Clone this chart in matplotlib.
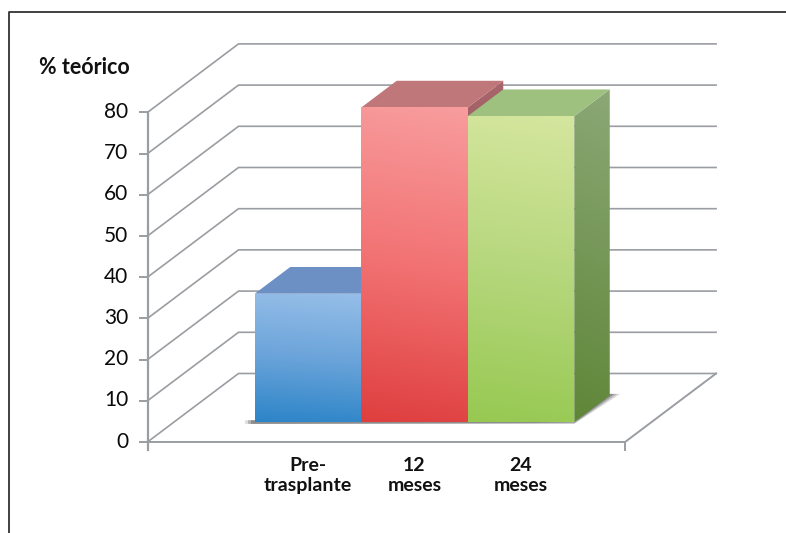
import numpy as np
import matplotlib
matplotlib.use('Agg')
import matplotlib.pyplot as plt
from matplotlib.colors import LinearSegmentedColormap
from matplotlib.patches import Polygon

plt.rcParams['font.family'] = ['Lato', 'DejaVu Sans']

categories = ['Pre-\ntrasplante', '12\nmeses', '24\nmeses']
values = [31.2, 76.4, 74.3]
yticks = [0, 10, 20, 30, 40, 50, 60, 70, 80]

front_colors = [('#96bee8', '#6ba4da', '#2d85c8'),
                ('#f89c9d', '#f27273', '#df3f3f'),
                ('#d5e69e', '#b6d77d', '#97c952')]
side_colors = [('#5f84b0', '#3b6a9c'), ('#a8666c', '#8c4a4a'), ('#8ba876', '#5f8638')]
top_colors = ['#6c90c4', '#c07779', '#9ec17f']
line_color = '#9a9da2'

# oblique projection: depth 0..1 shifts a point right and up
DX = 91 / 106.5
DY = 68.5 / 4.12
BAR_Z0 = 0.288
BAR_Z1 = 0.678
X_LEFT = -1.2606
X_RIGHT = 3.223
YMAX = 80


def proj(x, v, z=0.0):
    return x + DX * z, v + DY * z


def gradient_face(ax, pts, colors, zorder):
    pts = np.array(pts)
    cmap = LinearSegmentedColormap.from_list('face', colors)
    yy, xx = np.mgrid[0:1:128j, 0:1:32j]
    # slightly slanted shading
    grad = np.clip(yy * 0.95 + (1 - xx) * 0.05, 0, 1)
    extent = [pts[:, 0].min(), pts[:, 0].max(), pts[:, 1].min(), pts[:, 1].max()]
    im = ax.imshow(grad, cmap=cmap, extent=extent, origin='upper', aspect='auto',
                   zorder=zorder, interpolation='bilinear', vmin=0, vmax=1)
    patch = Polygon(pts, closed=True, transform=ax.transData, fc='none', ec='none')
    ax.add_patch(patch)
    im.set_clip_path(patch)


fig = plt.figure(figsize=(7.86, 5.33), dpi=100)
ax = fig.add_axes([0, 0, 1, 1])
ax.axis('off')

# back wall gridlines and their receding parts
for t in yticks:
    xs, ys = zip(proj(X_LEFT, t, 0), proj(X_LEFT, t, 1), proj(X_RIGHT, t, 1))
    ax.plot(xs, ys, color=line_color, lw=1.2, zorder=1, solid_joinstyle='miter')

# floor edges, axis and tick marks
xs, ys = zip(proj(X_RIGHT, 0, 1), proj(X_RIGHT, 0, 0), proj(X_LEFT, 0, 0))
ax.plot(xs, ys, color=line_color, lw=1.4, zorder=1)
ax.plot([X_LEFT, X_LEFT], [-2, YMAX], color=line_color, lw=1.6, zorder=2)
ax.plot([X_RIGHT, X_RIGHT], [-2, 0], color=line_color, lw=1.4, zorder=1)
for t in yticks:
    ax.plot([X_LEFT - 0.07, X_LEFT], [t, t], color=line_color, lw=1.4, zorder=2)
    ax.text(X_LEFT - 0.18, t + 0.1, str(t), ha='right', va='center', fontsize=15, color='#0a0a0a')

ax.text(-1.855, 90.9, '% teórico', ha='center', va='center', fontsize=15.5,
        fontweight='bold', color='#111111')

# soft shadow along the bar bases
for k, alpha in zip([1.0, 0.7, 0.4], [0.2, 0.3, 0.4]):
    front_left = proj(-0.5 - 0.09 * k, 0, BAR_Z0)
    front_right = proj(2.5, -0.4 * k, BAR_Z0)
    back_right = proj(2.5 + 0.1 * k, 0.4, BAR_Z1)
    ax.add_patch(Polygon([(front_left[0], front_left[1] + 0.5), (front_left[0], front_left[1] - 0.4),
                          front_right, back_right, proj(2.5, 0.4, BAR_Z1), proj(2.5, 0, BAR_Z0)],
                         closed=True, fc='#555555', ec='none', alpha=alpha, zorder=2))

# bars, painted left to right so each one covers the side of the previous
for i, v in enumerate(values):
    x0, x1 = i - 0.5, i + 0.5
    side = [proj(x1, 0, BAR_Z0), proj(x1, 0, BAR_Z1), proj(x1, v, BAR_Z1), proj(x1, v, BAR_Z0)]
    top = [proj(x0, v, BAR_Z0), proj(x1, v, BAR_Z0), proj(x1, v, BAR_Z1), proj(x0, v, BAR_Z1)]
    front = [proj(x0, 0, BAR_Z0), proj(x1, 0, BAR_Z0), proj(x1, v, BAR_Z0), proj(x0, v, BAR_Z0)]
    base = 3 + i * 3
    gradient_face(ax, side, side_colors[i], base)
    ax.add_patch(Polygon(top, closed=True, fc=top_colors[i], ec='none', zorder=base + 1))
    gradient_face(ax, front, front_colors[i], base + 2)
    lab_x, _ = proj(i, 0, BAR_Z0)
    ax.text(lab_x, -3.6, categories[i], ha='center', va='top', fontsize=14, fontweight='bold',
            color='#111111', linespacing=1.2)

ax.set_xlim(-2.6455, 4.734)
ax.set_ylim(-22.09, 107.28)

# frame around the slide, open on the right and at the bottom
ax.plot([-2.56, -2.56, 4.734], [-22.09, 104.4, 104.4], color='#333333', lw=1.3, zorder=20,
        clip_on=False)

fig.savefig('out.png', dpi=100)
